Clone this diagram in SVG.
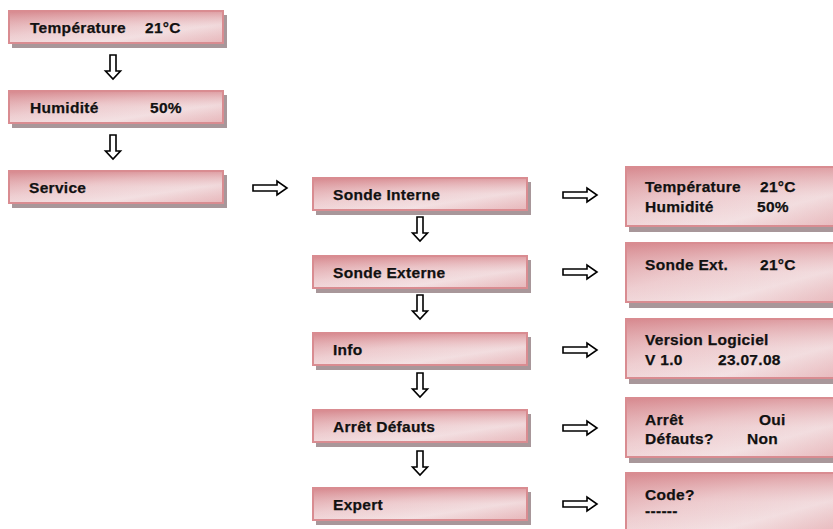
<svg xmlns="http://www.w3.org/2000/svg" width="833" height="529" viewBox="0 0 833 529">
<defs>
<linearGradient id="g" x1="0" y1="0" x2="1" y2="1">
<stop offset="0" stop-color="#dc9a9f"/>
<stop offset="0.4" stop-color="#eecdd0"/>
<stop offset="0.7" stop-color="#f3e0e2"/>
<stop offset="1" stop-color="#e4adb1"/>
</linearGradient>
<linearGradient id="v" x1="0" y1="0" x2="0" y2="1">
<stop offset="0" stop-color="#d48086" stop-opacity="0.6"/>
<stop offset="0.5" stop-color="#e8b9bc" stop-opacity="0.1"/>
<stop offset="1" stop-color="#f6eaeb" stop-opacity="0.15"/>
</linearGradient>
<g id="ra"><path d="M0,-3 H24 V-7 L34,0 L24,7 V3 H0 Z" fill="#fff" stroke="#000" stroke-width="1.6" stroke-linejoin="miter"/></g>
<g id="da"><path d="M-3,0 V16 H-7.5 L0,24 L7.5,16 H3 V0 Z" fill="#fff" stroke="#000" stroke-width="1.6"/></g>
</defs>
<style>
.sh{fill:#a8979a}
.bx{fill:url(#g);stroke:#d98c91;stroke-width:2}
.ov{fill:url(#v)}
text{font-family:"Liberation Sans",Arial,sans-serif;font-weight:bold;font-size:15.5px;fill:#111;letter-spacing:0.3px;stroke:#111;stroke-width:0.25px}
</style>
<rect width="833" height="529" fill="#fff"/>

<g id="n-temp">
<rect class="sh" x="12" y="15" width="215" height="33"/>
<rect class="bx" x="9" y="11" width="214" height="32"/>
<rect class="ov" x="10" y="12" width="212" height="30"/>
<text x="30" y="33">Température</text><text x="145" y="33">21°C</text>
</g>
<g id="n-hum">
<rect class="sh" x="12" y="95" width="215" height="33"/>
<rect class="bx" x="9" y="91" width="214" height="32"/>
<rect class="ov" x="10" y="92" width="212" height="30"/>
<text x="30" y="113">Humidité</text><text x="150" y="113">50%</text>
</g>
<g id="n-service">
<rect class="sh" x="12" y="175" width="215" height="33"/>
<rect class="bx" x="9" y="171" width="214" height="32"/>
<rect class="ov" x="10" y="172" width="212" height="30"/>
<text x="29" y="193">Service</text>
</g>

<g id="n-sonde-int">
<rect class="sh" x="316" y="182" width="215" height="33"/>
<rect class="bx" x="313" y="178" width="214" height="32"/>
<rect class="ov" x="314" y="179" width="212" height="30"/>
<text x="333" y="200">Sonde Interne</text>
</g>
<g id="n-sonde-ext">
<rect class="sh" x="316" y="260" width="215" height="33"/>
<rect class="bx" x="313" y="256" width="214" height="32"/>
<rect class="ov" x="314" y="257" width="212" height="30"/>
<text x="333" y="278">Sonde Externe</text>
</g>
<g id="n-info">
<rect class="sh" x="316" y="337" width="215" height="33"/>
<rect class="bx" x="313" y="333" width="214" height="32"/>
<rect class="ov" x="314" y="334" width="212" height="30"/>
<text x="333" y="355">Info</text>
</g>
<g id="n-arret">
<rect class="sh" x="316" y="414" width="215" height="33"/>
<rect class="bx" x="313" y="410" width="214" height="32"/>
<rect class="ov" x="314" y="411" width="212" height="30"/>
<text x="333" y="432">Arrêt Défauts</text>
</g>
<g id="n-expert">
<rect class="sh" x="316" y="492" width="215" height="33"/>
<rect class="bx" x="313" y="488" width="214" height="32"/>
<rect class="ov" x="314" y="489" width="212" height="30"/>
<text x="333" y="510">Expert</text>
</g>

<g id="r-sonde-int">
<rect class="sh" x="629" y="171" width="215" height="61"/>
<rect class="bx" x="626" y="167" width="220" height="59"/>
<rect class="ov" x="627" y="168" width="212" height="57"/>
<text x="645" y="192">Température</text><text x="760" y="192">21°C</text>
<text x="645" y="212">Humidité</text><text x="757" y="212">50%</text>
</g>
<g id="r-sonde-ext">
<rect class="sh" x="629" y="247" width="215" height="61"/>
<rect class="bx" x="626" y="243" width="220" height="59"/>
<rect class="ov" x="627" y="244" width="212" height="57"/>
<text x="645" y="270">Sonde Ext.</text><text x="760" y="270">21°C</text>
</g>
<g id="r-info">
<rect class="sh" x="629" y="323" width="215" height="61"/>
<rect class="bx" x="626" y="319" width="220" height="59"/>
<rect class="ov" x="627" y="320" width="212" height="57"/>
<text x="645" y="345">Version Logiciel</text>
<text x="645" y="365">V 1.0</text><text x="718" y="365">23.07.08</text>
</g>
<g id="r-arret">
<rect class="sh" x="629" y="402" width="215" height="61"/>
<rect class="bx" x="626" y="398" width="220" height="59"/>
<rect class="ov" x="627" y="399" width="212" height="57"/>
<text x="645" y="425">Arrêt</text><text x="759" y="425">Oui</text>
<text x="645" y="444">Défauts?</text><text x="747" y="444">Non</text>
</g>
<g id="r-expert">
<rect class="sh" x="629" y="477" width="215" height="61"/>
<rect class="bx" x="626" y="473" width="220" height="59"/>
<rect class="ov" x="627" y="474" width="212" height="57"/>
<text x="645" y="500">Code?</text>
<text x="645" y="516">------</text>
</g>

<g id="connectors">
<use href="#da" x="113" y="55"/>
<use href="#da" x="113" y="135"/>
<use href="#ra" x="253" y="188"/>
<use href="#da" x="420" y="217"/>
<use href="#da" x="420" y="295"/>
<use href="#da" x="420" y="373"/>
<use href="#da" x="420" y="451"/>
<use href="#ra" x="563" y="195"/>
<use href="#ra" x="563" y="272"/>
<use href="#ra" x="563" y="350"/>
<use href="#ra" x="563" y="428"/>
<use href="#ra" x="563" y="504"/>
</g>
</svg>
